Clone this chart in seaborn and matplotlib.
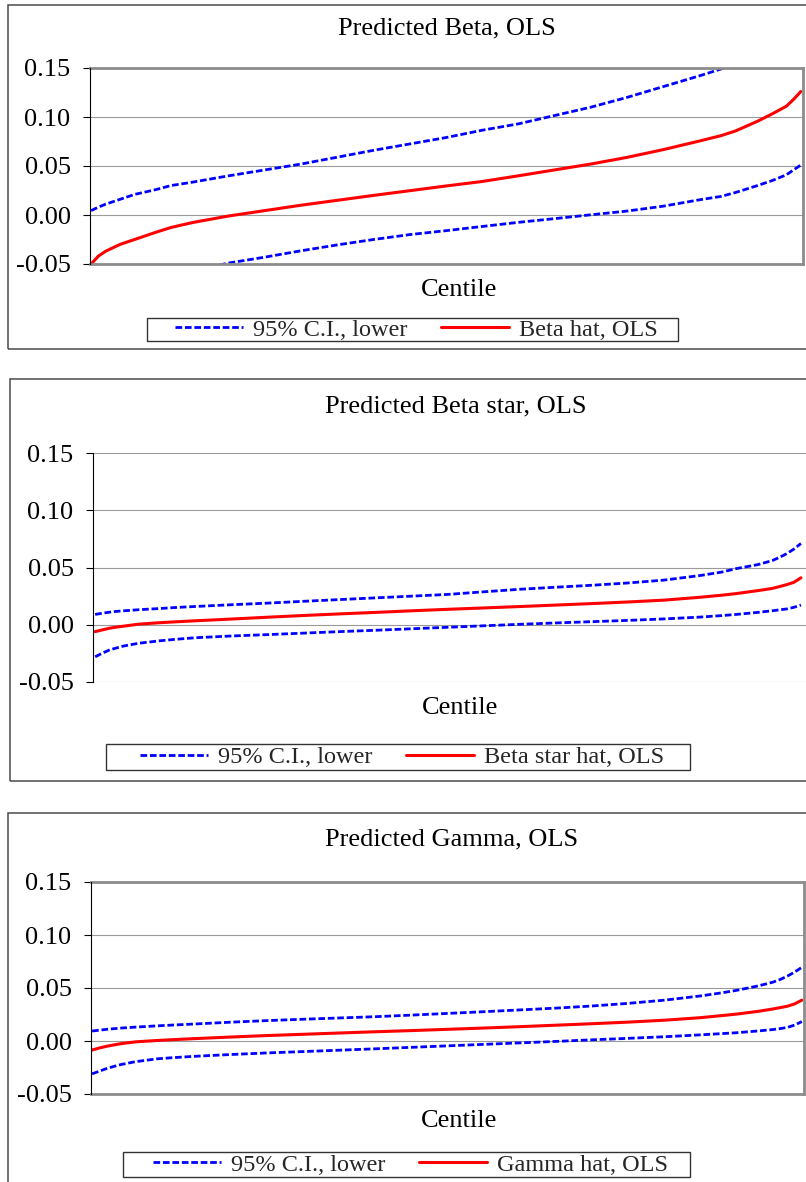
import matplotlib
matplotlib.use("Agg")
import matplotlib.pyplot as plt
from matplotlib.patches import Rectangle
import seaborn as sns

# ---------------- data ----------------
centiles = [1, 2, 3, 4, 5, 7, 10, 12, 15, 20, 25, 30, 35, 40, 45, 50,
            55, 60, 65, 70, 75, 80, 85, 88, 90, 93, 95, 96, 97, 98, 99]

beta_hat = [-0.050, -0.042, -0.037, -0.0335, -0.030, -0.025, -0.0175, -0.0128, -0.0077, -0.001,
            0.0045, 0.010, 0.015, 0.020, 0.0248, 0.0296, 0.0342, 0.040, 0.046, 0.052,
            0.0588, 0.0667, 0.0755, 0.081, 0.0858, 0.0956, 0.103, 0.107, 0.111, 0.118, 0.126]
beta_upper = [0.0045, 0.008, 0.011, 0.0135, 0.016, 0.021, 0.026, 0.030, 0.0335, 0.040,
              0.046, 0.052, 0.059, 0.066, 0.0725, 0.079, 0.0865, 0.093, 0.1015, 0.110,
              0.120, 0.131, 0.142, 0.149, 0.154, 0.162, 0.168, 0.172, 0.176, 0.181, 0.188]
beta_lower = [-0.105, -0.097, -0.090, -0.085, -0.080, -0.073, -0.066, -0.062, -0.057, -0.049,
              -0.043, -0.0365, -0.0305, -0.025, -0.020, -0.016, -0.0117, -0.0075, -0.0037, 0.0002,
              0.004, 0.009, 0.0155, 0.019, 0.023, 0.030, 0.035, 0.038, 0.041, 0.046, 0.051]

betastar_hat = [-0.0060, -0.0045, -0.0030, -0.0020, -0.0012, 0.0005, 0.0018, 0.0025, 0.0035, 0.0050,
                0.0066, 0.0081, 0.0095, 0.0108, 0.0122, 0.0135, 0.0147, 0.0159, 0.0172, 0.0185,
                0.0199, 0.0215, 0.0240, 0.0258, 0.0272, 0.0298, 0.0317, 0.0333, 0.0350, 0.0370, 0.0410]
betastar_upper = [0.0090, 0.0101, 0.0110, 0.0117, 0.0122, 0.0131, 0.0142, 0.0150, 0.0160, 0.0175,
                  0.0189, 0.0205, 0.0220, 0.0235, 0.0250, 0.0265, 0.0288, 0.0310, 0.0328, 0.0345,
                  0.0365, 0.0390, 0.0430, 0.0460, 0.0490, 0.0525, 0.0560, 0.0588, 0.0620, 0.0660, 0.0710]
betastar_lower = [-0.0280, -0.0248, -0.0220, -0.0202, -0.0185, -0.0162, -0.0140, -0.0128, -0.0113, -0.0098,
                  -0.0086, -0.0073, -0.0060, -0.0048, -0.0035, -0.0022, -0.0009, 0.0004, 0.0016, 0.0027,
                  0.0038, 0.0051, 0.0067, 0.0080, 0.0090, 0.0108, 0.0122, 0.0130, 0.0138, 0.0152, 0.0172]

gamma_hat = [-0.0085, -0.0066, -0.0050, -0.0037, -0.0025, -0.0008, 0.0005, 0.0012, 0.0022, 0.0037,
             0.0051, 0.0063, 0.0075, 0.0087, 0.0098, 0.0110, 0.0122, 0.0135, 0.0149, 0.0163,
             0.0178, 0.0196, 0.0220, 0.0240, 0.0254, 0.0280, 0.0302, 0.0315, 0.0328, 0.0350, 0.0385]
gamma_upper = [0.0094, 0.0102, 0.0110, 0.0116, 0.0122, 0.0131, 0.0143, 0.0150, 0.0160, 0.0177,
               0.0192, 0.0205, 0.0217, 0.0229, 0.0244, 0.0260, 0.0276, 0.0293, 0.0310, 0.0330,
               0.0355, 0.0385, 0.0425, 0.0455, 0.0478, 0.0520, 0.0555, 0.0580, 0.0612, 0.0650, 0.0695]
gamma_lower = [-0.0310, -0.0285, -0.0260, -0.0240, -0.0222, -0.0195, -0.0168, -0.0158, -0.0145, -0.0128,
               -0.0113, -0.0100, -0.0087, -0.0074, -0.0060, -0.0046, -0.0032, -0.0018, -0.0004, 0.0011,
               0.0025, 0.0040, 0.0058, 0.0070, 0.0078, 0.0095, 0.0108, 0.0117, 0.0128, 0.0150, 0.0183]

titles = ["Predicted Beta, OLS", "Predicted Beta star, OLS", "Predicted Gamma, OLS"]
est_labels = ["Beta hat, OLS", "Beta star hat, OLS", "Gamma hat, OLS"]
ci_label = "95% C.I., lower"
x_label = "Centile"
yticks = [-0.05, 0.00, 0.05, 0.10, 0.15]

series = [
    (beta_hat, beta_upper, beta_lower),
    (betastar_hat, betastar_upper, betastar_lower),
    (gamma_hat, gamma_upper, gamma_lower),
]

# ---------------- style ----------------
sns.set_theme(style="white")
plt.rcParams["font.family"] = ["Liberation Serif", "DejaVu Serif"]

W, H = 806, 1182
fig = plt.figure(figsize=(W / 100, H / 100), dpi=100)
fig.patch.set_facecolor("white")


def fx(x):
    return x / W


def fy(y):
    return 1 - y / H


# layout in pixels
layout = [
    dict(outer=(8, 5, 840, 349), ax=(90, 68, 803, 264), frame=True, title=(447, 37),
         xlab=(459, 290), leg=(147, 318, 678, 341), xlim=(0.85, 99.3)),
    dict(outer=(10, 379, 840, 781), ax=(93, 453, 806, 682), frame=False, title=(456, 415),
         xlab=(460, 708), leg=(106, 744, 690, 770), xlim=(0.7, 99.7)),
    dict(outer=(8, 813, 840, 1200), ax=(91, 882, 804, 1094), frame=True, title=(452, 848),
         xlab=(459, 1121), leg=(123, 1152, 690, 1177), xlim=(0.85, 99.3)),
]

BLUE = "#0000ff"
RED = "#ff0000"

for i, lay in enumerate(layout):
    hat, upper, lower = series[i]

    # outer chart-area border
    x0, y0, x1, y1 = lay["outer"]
    fig.add_artist(Rectangle((fx(x0), fy(y1)), fx(x1) - fx(x0), fy(y0) - fy(y1),
                             transform=fig.transFigure, fill=False,
                             edgecolor="#4a4a4a", linewidth=1.1))

    l, t, r, b = lay["ax"]
    ax = fig.add_axes([fx(l), fy(b), fx(r) - fx(l), fy(t) - fy(b)])
    ax.set_facecolor("white")

    sns.lineplot(x=centiles, y=upper, ax=ax, color=BLUE, linewidth=2.0, linestyle="--")
    l_up = ax.lines[-1]
    sns.lineplot(x=centiles, y=lower, ax=ax, color=BLUE, linewidth=2.0, linestyle="--")
    l_lo = ax.lines[-1]
    sns.lineplot(x=centiles, y=hat, ax=ax, color=RED, linewidth=2.2)
    l_hat = ax.lines[-1]
    for ln in (l_up, l_lo):
        ln.set_dashes([2.4, 1.0])
    if ax.get_legend() is not None:
        ax.get_legend().remove()

    ax.set_xlim(*lay["xlim"])
    ax.set_ylim(-0.05, 0.15)
    ax.set_xticks([])
    ax.set_yticks(yticks)
    ax.set_yticklabels([f"{v:.2f}" for v in yticks])
    ax.tick_params(axis="y", which="both", left=True, direction="out", length=5,
                   width=0.8, color="black", pad=9, labelsize=19, labelcolor="black")
    ax.yaxis.grid(True, color="#9a9a9a", linewidth=0.8)
    ax.set_axisbelow(True)

    for s in ("top", "right", "bottom"):
        if lay["frame"]:
            ax.spines[s].set_visible(True)
            ax.spines[s].set_color("#8c8c8c")
            ax.spines[s].set_linewidth(2.0)
        else:
            ax.spines[s].set_visible(False)
    ax.spines["left"].set_visible(True)
    ax.spines["left"].set_color("black")
    ax.spines["left"].set_linewidth(0.8)
    ax.spines["left"].set_zorder(3)

    # title
    tx, ty = lay["title"]
    ax.set_title(titles[i], fontsize=19, color="black",
                 x=(tx - l) / (r - l), y=(b - ty) / (b - t), va="center")

    # x label
    lx, ly = lay["xlab"]
    ax.set_xlabel(x_label, fontsize=19, color="black")
    ax.xaxis.set_label_coords((lx - l) / (r - l), (b - ly) / (b - t))
    ax.xaxis.label.set_va("center")
    ax.set_ylabel("")

    # legend
    gx0, gy0, gx1, gy1 = lay["leg"]
    fig.add_artist(Rectangle((fx(gx0), fy(gy1)), fx(gx1) - fx(gx0), fy(gy0) - fy(gy1),
                             transform=fig.transFigure, fill=False,
                             edgecolor="#333333", linewidth=1.0))
    fig.legend([l_lo, l_hat], [ci_label, est_labels[i]], loc="center",
               bbox_to_anchor=(fx((gx0 + gx1) / 2 + 4), fy((gy0 + gy1) / 2)),
               ncol=2, frameon=False, fontsize=17.5, handlelength=2.8,
               handletextpad=0.4, columnspacing=1.4, borderpad=0, borderaxespad=0)

fig.savefig("out.png", dpi=100, facecolor="white")
